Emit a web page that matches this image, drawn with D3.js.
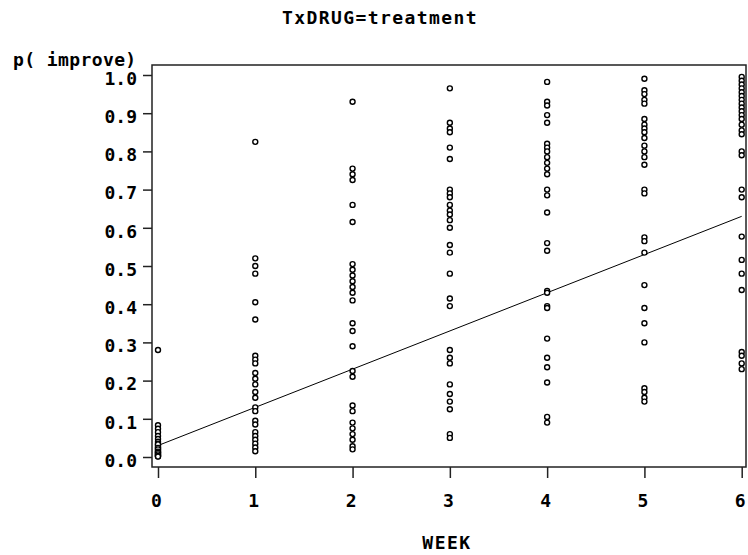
<!DOCTYPE html>
<html>
<head>
<meta charset="utf-8">
<script src="https://cdn.jsdelivr.net/npm/d3@7"></script>
<style>
  body { margin: 0; background: #fff; }
  text { font-family: "DejaVu Sans Mono", "Liberation Mono", monospace; font-weight: bold; fill: #000; }
</style>
</head>
<body>
<div id="chart"></div>
<script>
// observed p(improve) per week, treatment group
const weeks = [0, 1, 2, 3, 4, 5, 6];
const week0 = [0.28, 0.083, 0.074, 0.065, 0.055, 0.047, 0.04, 0.035, 0.03, 0.026, 0.022, 0.018, 0.015, 0.012, 0.009, 0.006, 0.004, 0.002, 0.033, 0.024, 0.02, 0.014, 0.011, 0.007, 0.003, 0.001];
const week1 = [0.825, 0.52, 0.50, 0.48, 0.405, 0.36, 0.265, 0.255, 0.245, 0.22, 0.205, 0.19, 0.17, 0.155, 0.13, 0.12, 0.095, 0.085, 0.065, 0.055, 0.045, 0.035, 0.025, 0.015];
const week2 = [0.93, 0.755, 0.74, 0.725, 0.66, 0.615, 0.505, 0.49, 0.475, 0.46, 0.445, 0.43, 0.41, 0.35, 0.33, 0.29, 0.225, 0.21, 0.135, 0.12, 0.09, 0.075, 0.06, 0.045, 0.028, 0.02];
const week3 = [0.965, 0.875, 0.86, 0.85, 0.81, 0.78, 0.70, 0.69, 0.68, 0.66, 0.645, 0.635, 0.62, 0.60, 0.555, 0.535, 0.48, 0.415, 0.395, 0.28, 0.26, 0.245, 0.19, 0.165, 0.145, 0.125, 0.06, 0.05];
const week4 = [0.982, 0.93, 0.92, 0.895, 0.875, 0.82, 0.81, 0.80, 0.785, 0.77, 0.755, 0.74, 0.70, 0.685, 0.64, 0.56, 0.54, 0.435, 0.43, 0.395, 0.39, 0.31, 0.26, 0.235, 0.195, 0.105, 0.09];
const week5 = [0.99, 0.96, 0.95, 0.935, 0.925, 0.885, 0.87, 0.86, 0.85, 0.835, 0.815, 0.80, 0.785, 0.765, 0.70, 0.69, 0.575, 0.565, 0.535, 0.45, 0.39, 0.35, 0.30, 0.18, 0.17, 0.155, 0.145];
const week6 = [0.995, 0.985, 0.975, 0.965, 0.955, 0.945, 0.935, 0.925, 0.915, 0.905, 0.895, 0.885, 0.87, 0.855, 0.845, 0.80, 0.79, 0.70, 0.68, 0.577, 0.516, 0.48, 0.437, 0.275, 0.265, 0.245, 0.23];
const byWeek = [week0, week1, week2, week3, week4, week5, week6];

// fitted regression line
const fitWeeks = [0, 6];
const fitValues = [0.03, 0.63];

const yTicks = [0, 0.1, 0.2, 0.3, 0.4, 0.5, 0.6, 0.7, 0.8, 0.9, 1.0];

const width = 748, height = 555;
const frame = { left: 152, right: 746, top: 65, bottom: 467 };

const svg = d3.select("#chart")
    .append("svg")
    .attr("width", width)
    .attr("height", height);

const x = d3.scaleLinear()
    .domain([0, 6])
    .range([158, 741.7]);

const y = d3.scaleLinear()
    .domain([0, 1])
    .range([457, 75]);

// frame
svg.append("rect")
    .attr("x", frame.left)
    .attr("y", frame.top)
    .attr("width", frame.right - frame.left)
    .attr("height", frame.bottom - frame.top)
    .attr("fill", "none")
    .attr("stroke", "#222")
    .attr("stroke-width", 1.5);

// y axis
const yAxis = svg.append("g")
    .attr("transform", `translate(${frame.left}, 0)`)
    .call(d3.axisLeft(y).tickValues(yTicks).tickSize(9).tickPadding(6).tickFormat(d3.format(".1f")));
yAxis.select(".domain").remove();
yAxis.selectAll("line").attr("stroke", "#222").attr("stroke-width", 1.5);
yAxis.selectAll("text")
    .attr("dy", "0.52em")
    .style("font-size", "18px");

// x axis
const xAxis = svg.append("g")
    .attr("transform", `translate(0, ${frame.bottom})`)
    .call(d3.axisBottom(x).tickValues(weeks).tickSize(11).tickFormat(d3.format("d")));
xAxis.select(".domain").remove();
xAxis.selectAll("line").attr("stroke", "#222").attr("stroke-width", 1.5);
xAxis.selectAll("text")
    .attr("y", 40)
    .attr("dy", 0)
    .attr("dx", -2)
    .style("font-size", "18px");

// regression line
const line = d3.line()
    .x(d => x(d[0]))
    .y(d => y(d[1]));
svg.append("path")
    .datum(fitWeeks.map((w, i) => [w, fitValues[i]]))
    .attr("d", line)
    .attr("fill", "none")
    .attr("stroke", "#000")
    .attr("stroke-width", 1);

// observed points
const points = [];
byWeek.forEach((vals, i) => vals.forEach(v => points.push({ week: weeks[i], p: v })));

svg.append("g")
    .selectAll("circle")
    .data(points)
    .join("circle")
    .attr("cx", d => x(d.week))
    .attr("cy", d => y(d.p))
    .attr("r", 2.5)
    .attr("fill", "#fff")
    .attr("stroke", "#000")
    .attr("stroke-width", 1.4);

// titles
svg.append("text")
    .attr("x", 380)
    .attr("y", 24)
    .attr("text-anchor", "middle")
    .style("font-size", "18px")
    .style("letter-spacing", "1.4px")
    .text("TxDRUG=treatment");

svg.append("text")
    .attr("x", 13)
    .attr("y", 66)
    .style("font-size", "18px")
    .style("letter-spacing", "0.4px")
    .text("p( improve)");

svg.append("text")
    .attr("x", 447)
    .attr("y", 549)
    .attr("text-anchor", "middle")
    .style("font-size", "18px")
    .style("letter-spacing", "1.5px")
    .text("WEEK");
</script>
</body>
</html>
